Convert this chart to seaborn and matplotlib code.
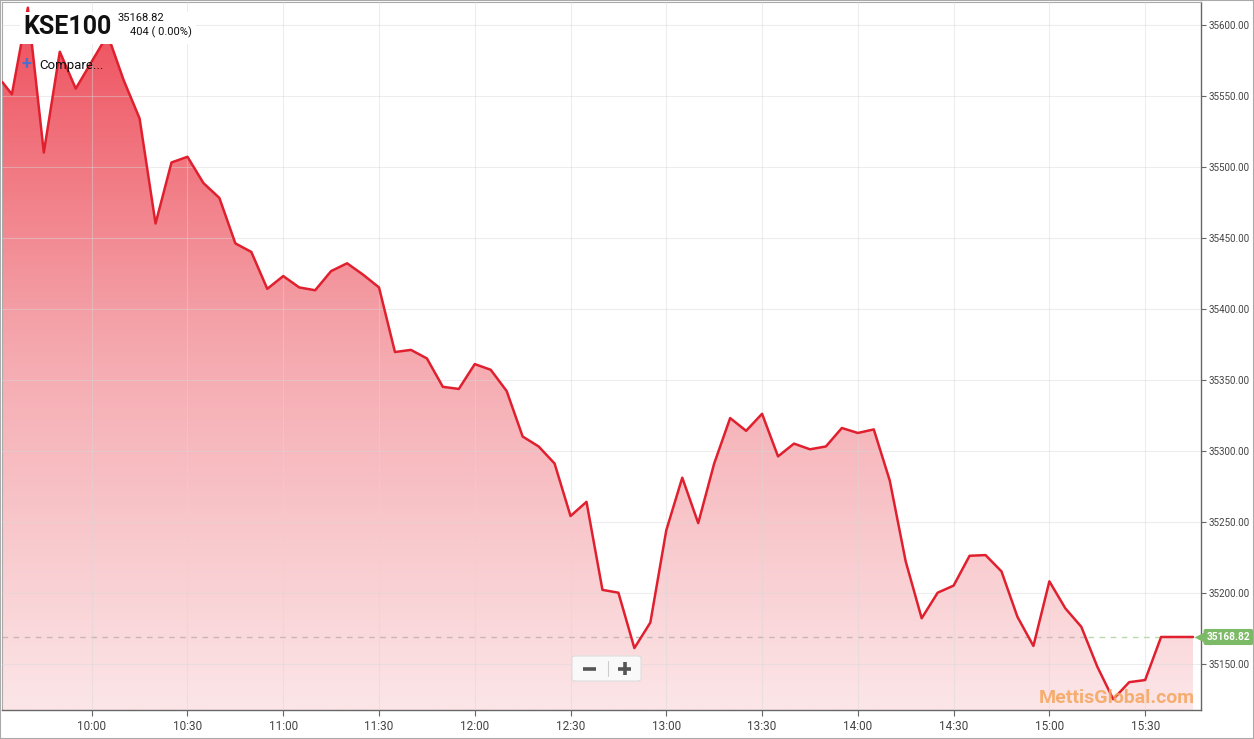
import numpy as np
import pandas as pd
import seaborn as sns
import matplotlib.pyplot as plt
from matplotlib.colors import LinearSegmentedColormap
from matplotlib.patches import Polygon, Rectangle, FancyBboxPatch
from matplotlib.transforms import blended_transform_factory, offset_copy

# intraday KSE100 readings (5 minute steps)
times = ["09:32", "09:35", "09:40", "09:45", "09:50", "09:55",
         "10:00", "10:05", "10:10", "10:15", "10:20", "10:25",
         "10:30", "10:35", "10:40", "10:45", "10:50", "10:55",
         "11:00", "11:05", "11:10", "11:15", "11:20", "11:25",
         "11:30", "11:35", "11:40", "11:45", "11:50", "11:55",
         "12:00", "12:05", "12:10", "12:15", "12:20", "12:25",
         "12:30", "12:35", "12:40", "12:45", "12:50", "12:55",
         "13:00", "13:05", "13:10", "13:15", "13:20", "13:25",
         "13:30", "13:35", "13:40", "13:45", "13:50", "13:55",
         "14:00", "14:05", "14:10", "14:15", "14:20", "14:25",
         "14:30", "14:35", "14:40", "14:45", "14:50", "14:55",
         "15:00", "15:05", "15:10", "15:15", "15:20", "15:25",
         "15:30", "15:35", "15:40", "15:45"]
values = [35559.6, 35551.0, 35612.0, 35510.0, 35581.0, 35555.0,
          35574.0, 35593.0, 35561.0, 35534.0, 35460.0, 35503.0,
          35507.0, 35488.5, 35478.0, 35446.0, 35440.0, 35414.0,
          35423.0, 35415.0, 35413.0, 35426.5, 35432.0, 35424.0,
          35415.0, 35369.5, 35371.0, 35365.0, 35345.0, 35343.5,
          35361.0, 35357.0, 35342.0, 35310.0, 35303.0, 35291.0,
          35254.0, 35264.0, 35202.0, 35200.0, 35161.0, 35179.0,
          35244.0, 35281.0, 35249.0, 35291.0, 35323.0, 35314.0,
          35326.0, 35296.0, 35305.0, 35301.0, 35303.0, 35316.0,
          35312.5, 35315.0, 35279.0, 35222.0, 35182.0, 35200.0,
          35205.0, 35226.0, 35226.5, 35215.0, 35183.0, 35162.5,
          35208.0, 35189.0, 35176.0, 35148.0, 35125.0, 35137.0,
          35138.5, 35168.82, 35168.82, 35168.82]
last_close = 35168.82
x_ticks = ["10:00", "10:30", "11:00", "11:30", "12:00", "12:30",
           "13:00", "13:30", "14:00", "14:30", "15:00", "15:30"]
y_ticks = [35150, 35200, 35250, 35300, 35350, 35400, 35450, 35500, 35550, 35600]


def to_min(s):
    return int(s[:2]) * 60 + int(s[3:])


df = pd.DataFrame({"minute": [to_min(t) for t in times], "value": values})

sns.set_style("white")
plt.rcParams['font.family'] = ['Roboto', 'DejaVu Sans']

W, H = 1254, 739
fig = plt.figure(figsize=(W / 100, H / 100), dpi=100)
ax = fig.add_axes([2 / W, 29 / H, 1199 / W, 708 / H])

x0, x1 = 571.9, 947.5
y0, y1 = 35117.4, 35616.0
ax.set_xlim(x0, x1)
ax.set_ylim(y0, y1)

# gradient area under the line
cmap = LinearSegmentedColormap.from_list("kse", ["#fce6e8", "#f5aab0", "#ee4d5a"])
grad = np.linspace(1, 0, 256).reshape(-1, 1)
im = ax.imshow(grad, cmap=cmap, extent=(x0, x1, y0, y1), aspect="auto",
               origin="upper", zorder=1)
verts = [(df.minute.iloc[0], y0)] + list(zip(df.minute, df.value)) + [(df.minute.iloc[-1], y0)]
clip = Polygon(verts, closed=True, transform=ax.transData, facecolor="none", edgecolor="none")
ax.add_patch(clip)
im.set_clip_path(clip)

ax.grid(True, color="#d8d8d8", lw=0.8, alpha=0.45)
ax.set_axisbelow(False)
for gl in ax.get_xgridlines() + ax.get_ygridlines():
    gl.set_zorder(1.5)

sns.lineplot(data=df, x="minute", y="value", ax=ax, color="#e0202e", lw=1.8, zorder=3)

# last close dashed line
split = to_min("15:12")
ax.plot([x0, split], [last_close, last_close], color="#c9b5b5", lw=1, ls=(0, (4, 4)), zorder=2)
ax.plot([split, x1], [last_close, last_close], color="#b9d9a8", lw=1, ls=(0, (4, 4)), zorder=2)

ax.set_xticks([to_min(t) for t in x_ticks])
ax.set_xticklabels(x_ticks)
ax.set_yticks(y_ticks)
ax.set_yticklabels([f"{v:.2f}" for v in y_ticks])
ax.yaxis.tick_right()
ax.tick_params(axis="y", length=3.5, color="#666666", labelsize=7.1, labelcolor="#444444", pad=2, direction="out", right=True)
ax.tick_params(axis="x", length=4, color="#666666", labelsize=8.5, labelcolor="#444444", pad=3, bottom=True)
ax.set_xlabel("")
ax.set_ylabel("")

for side in ["left", "top"]:
    ax.spines[side].set_color("#aaaaaa")
    ax.spines[side].set_linewidth(0.8)
for side in ["right", "bottom"]:
    ax.spines[side].set_color("#666666")
    ax.spines[side].set_linewidth(1)

# green last value tag
bt = blended_transform_factory(ax.transAxes, ax.transData)
ax.plot([1.0], [last_close], marker="<", ms=11, color="#7dba67", mec="none",
        transform=offset_copy(bt, fig=fig, x=1.0, units="points"), clip_on=False, zorder=5)
ax.text(1.0, last_close, "35168.82", transform=offset_copy(bt, fig=fig, x=4.0, units="points"),
        ha="left", va="center", fontsize=7.3, fontweight="bold", color="white", zorder=6,
        bbox=dict(boxstyle="round,pad=0.3,rounding_size=0.2", fc="#7dba67", ec="none"))

# header box
fig.add_artist(Rectangle((20 / W, 1 - 44 / H), 176 / W, 32 / H, transform=fig.transFigure,
                         facecolor="white", edgecolor="none", zorder=3))
fig.text(23 / W, 1 - 27 / H, "KSE100", fontsize=18, fontweight="bold", color="#111111",
         va="center", ha="left", zorder=4)
fig.text(118 / W, 1 - 18 / H, "35168.82", fontsize=8, color="#111111", va="center", ha="left", zorder=4)
fig.text(130 / W, 1 - 32 / H, "404 ( 0.00%)", fontsize=8, color="#111111", va="center", ha="left", zorder=4)
fig.text(21 / W, 1 - 64 / H, "+", fontsize=13, fontweight="bold", color="#4a6fd0", va="center", ha="left", zorder=4)
fig.text(39 / W, 1 - 65 / H, "Compare...", fontsize=9.5, color="#111111", va="center", ha="left", zorder=4)

# zoom buttons
fig.add_artist(FancyBboxPatch((572 / W, 1 - 681 / H), 69 / W, 25 / H,
                              boxstyle="round,pad=0,rounding_size=0.003", transform=fig.transFigure,
                              facecolor="#f9f9f9", edgecolor="#dddddd", lw=0.8, zorder=3))
fig.add_artist(plt.Line2D([608 / W, 608 / W], [1 - 676 / H, 1 - 661 / H], transform=fig.transFigure,
                          color="#cccccc", lw=0.8, zorder=4))
fig.add_artist(plt.Line2D([583 / W, 596 / W], [1 - 668.5 / H, 1 - 668.5 / H], transform=fig.transFigure,
                          color="#555555", lw=2.6, solid_capstyle="butt", zorder=4))
fig.add_artist(plt.Line2D([618 / W, 631 / W], [1 - 668.5 / H, 1 - 668.5 / H], transform=fig.transFigure,
                          color="#555555", lw=2.6, solid_capstyle="butt", zorder=4))
fig.add_artist(plt.Line2D([624.5 / W, 624.5 / W], [1 - 662 / H, 1 - 675 / H], transform=fig.transFigure,
                          color="#555555", lw=2.6, solid_capstyle="butt", zorder=4))

# watermark
fig.text(1195 / W, 1 - 698 / H, "MettisGlobal.com", fontsize=14, fontweight="bold",
         color="#f5a45c", alpha=0.85, va="center", ha="right", zorder=4)

fig.add_artist(Rectangle((0, 0), 1, 1, transform=fig.transFigure, fill=False,
                         edgecolor="#aaaaaa", lw=1.5, zorder=10))

fig.savefig("out.png", dpi=100)
